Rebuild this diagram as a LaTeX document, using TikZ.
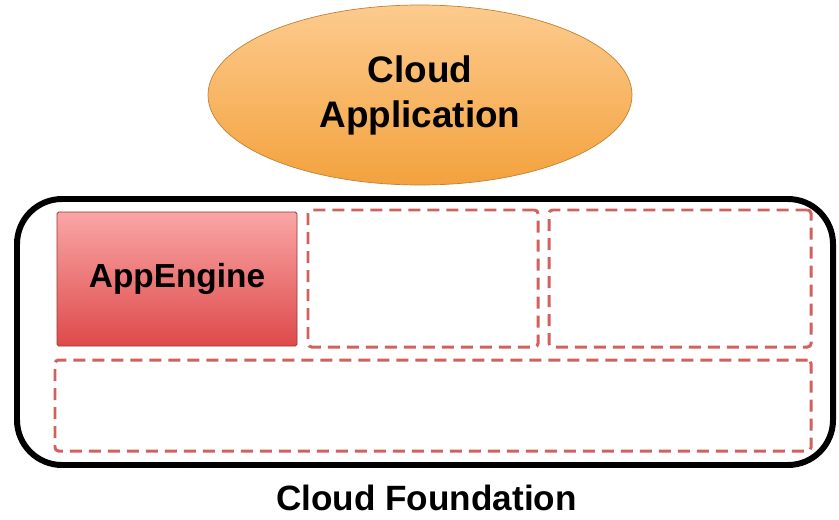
\documentclass[tikz,border=0pt]{standalone}
\usepackage{fontspec}
\setmainfont{Liberation Sans}
\usetikzlibrary{positioning,shapes.geometric,backgrounds}

\definecolor{appTop}{HTML}{FDCB8E}
\definecolor{appBot}{HTML}{F3A23E}
\definecolor{engTop}{HTML}{FAA6A6}
\definecolor{engBot}{HTML}{DE4A4A}
\definecolor{slotRed}{HTML}{D2605C}

\begin{document}
\begin{tikzpicture}
    \tikzset{
        cloudapp/.style = {ellipse, minimum width=8.48cm, minimum height=3.6cm, top color=appTop, bottom color=appBot,
                           draw=appBot!80!black, line width=0.4pt, align=center, font=\fontsize{21}{25.6}\selectfont\bfseries},
        engine/.style = {rectangle, rounded corners=1pt, minimum width=4.8cm, minimum height=2.68cm, top color=engTop, bottom color=engBot,
                         draw=engBot!70!black, line width=0.5pt, font=\fontsize{19}{22}\selectfont\bfseries},
        slot/.style = {rectangle, rounded corners=2pt, draw=slotRed, line width=1.7pt, dash pattern=on 0.24cm off 0.14cm},
        frame/.style = {rectangle, rounded corners=0.9cm, draw=black, line width=3.4pt, minimum width=16.32cm, minimum height=5.32cm},
    }
    \useasboundingbox (0,0) rectangle (16.78,10.38);

    \node (frame) [frame] at (8.5,3.74) {};
    \node (app) [cloudapp] at (8.4,8.48) {Cloud\\Application};
    \node (engine) [engine] at (3.54,4.8) {\raisebox{0.12cm}{AppEngine}};

    \node (slotA) [slot, minimum width=4.6cm, minimum height=2.74cm] at (8.46,4.81) {};
    \node (slotB) [slot, minimum width=5.24cm, minimum height=2.74cm] at (13.6,4.81) {};
    \node (slotC) [slot, minimum width=15.12cm, minimum height=1.82cm] at (8.66,2.27) {};

    \node (label) [below=0.22cm of frame, xshift=0.03cm, font=\fontsize{20}{24}\selectfont\bfseries] {Cloud Foundation};
\end{tikzpicture}
\end{document}
